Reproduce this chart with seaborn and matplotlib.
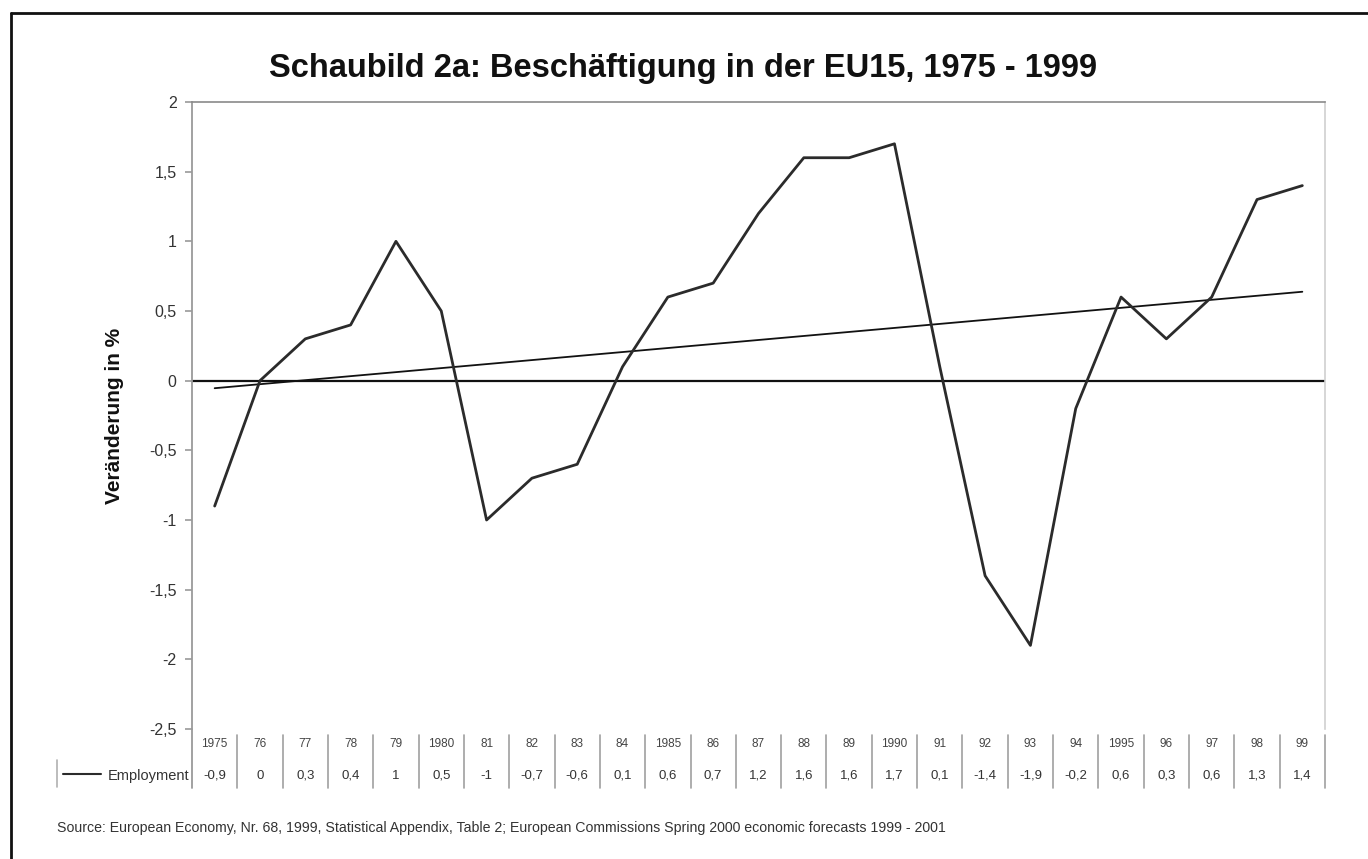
import numpy as np
import pandas as pd
import matplotlib
matplotlib.use("Agg")
import matplotlib.pyplot as plt
import matplotlib.transforms as mtransforms
from matplotlib.lines import Line2D
import seaborn as sns

# ---- data ----
years = list(range(1975, 2000))
year_labels = ["1975", "76", "77", "78", "79", "1980", "81", "82", "83", "84",
               "1985", "86", "87", "88", "89", "1990", "91", "92", "93", "94",
               "1995", "96", "97", "98", "99"]
employment = [-0.9, 0.0, 0.3, 0.4, 1.0, 0.5, -1.0, -0.7, -0.6, 0.1,
              0.6, 0.7, 1.2, 1.6, 1.6, 1.7, 0.1, -1.4, -1.9, -0.2,
              0.6, 0.3, 0.6, 1.3, 1.4]
series_name = "Employment"
yticks = [2, 1.5, 1, 0.5, 0, -0.5, -1, -1.5, -2, -2.5]
ytick_labels = ["2", "1,5", "1", "0,5", "0", "-0,5", "-1", "-1,5", "-2", "-2,5"]
title = "Schaubild 2a: Beschäftigung in der EU15, 1975 - 1999"
ylabel = "Veränderung in %"
source = ("Source: European Economy, Nr. 68, 1999, Statistical Appendix, Table 2; "
          "European Commissions Spring 2000 economic forecasts 1999 - 2001")


def fmt(v):
    return ("%g" % v).replace(".", ",")


df = pd.DataFrame({"pos": np.arange(len(years)), "value": employment})

sns.set_theme(style="white")
plt.rcParams["font.family"] = ["Liberation Sans", "DejaVu Sans"]

W, H = 1368, 859
fig = plt.figure(figsize=(W / 100, H / 100), dpi=100)
fig.patch.set_facecolor("white")

L, R, T, B = 192, 1325, 102, 729
ax = fig.add_axes([L / W, 1 - B / H, (R - L) / W, (B - T) / H])
ax.set_facecolor("white")

# zero line
ax.axhline(0, color="#111111", lw=1.6, zorder=1)

# data line
sns.lineplot(data=df, x="pos", y="value", ax=ax, color="#2b2b2b", lw=2.0,
             zorder=3, legend=False)
# linear trend
sns.regplot(data=df, x="pos", y="value", ax=ax, scatter=False, ci=None,
            truncate=True, color="#111111", line_kws={"lw": 1.3, "zorder": 2})

ax.set_xlim(-0.5, len(years) - 0.5)
ax.set_ylim(-2.5, 2)
ax.set_xticks([])
ax.set_xlabel("")
ax.set_yticks(yticks)
ax.set_yticklabels(ytick_labels)
ax.tick_params(axis="y", left=True, direction="out", length=5, width=1.2,
               color="#999999", labelsize=11.5, labelcolor="#333333", pad=6)
ax.set_ylabel(ylabel, fontsize=15, fontweight="bold", color="#111111", labelpad=18)

ax.spines["bottom"].set_visible(False)
ax.spines["left"].set_color("#9a9a9a")
ax.spines["left"].set_linewidth(1.3)
ax.spines["top"].set_color("#8a8a8a")
ax.spines["top"].set_linewidth(1.2)
ax.spines["right"].set_color("#d0d0d0")
ax.spines["right"].set_linewidth(1.2)

# ---- data table below the plot ----
h = B - T


def ay(py):
    return (B - py) / h


trans = mtransforms.blended_transform_factory(ax.transData, ax.transAxes)
ax.plot([-0.5, -0.5], [0, ay(788)], transform=trans, color="#9a9a9a",
        lw=1.3, clip_on=False)
for i in range(len(years)):
    ax.plot([i + 0.5, i + 0.5], [ay(735), ay(788)], transform=trans,
            color="#a0a0a0", lw=1.2, clip_on=False)
    ax.text(i, ay(744), year_labels[i], transform=trans, ha="center",
            va="center", fontsize=8.5, color="#444444")
    ax.text(i, ay(776), fmt(employment[i]), transform=trans, ha="center",
            va="center", fontsize=9.5, color="#333333")

# legend key for table row
fig.add_artist(Line2D([57 / W, 57 / W], [1 - 760 / H, 1 - 787 / H],
                      color="#b0b0b0", lw=1.2))
fig.add_artist(Line2D([63 / W, 101 / W], [1 - 774 / H, 1 - 774 / H],
                      color="#2b2b2b", lw=1.5))
fig.text(189 / W, 1 - 776 / H, series_name, ha="right", va="center",
         fontsize=10.5, color="#333333")

# title
fig.text(683 / W, 1 - 68 / H, title, ha="center", va="center",
         fontsize=23.5, fontweight="bold", color="#111111")

# source
fig.text(57 / W, 1 - 828 / H, source, ha="left", va="center",
         fontsize=10.2, color="#333333")

# outer frame (top and left visible)
fig.add_artist(Line2D([11 / W, 11 / W], [1 - 13 / H, -0.05], color="#111111", lw=2))
fig.add_artist(Line2D([11 / W, 1.05], [1 - 13 / H, 1 - 13 / H], color="#111111", lw=2))

fig.savefig("out.png", dpi=100, facecolor="white")
